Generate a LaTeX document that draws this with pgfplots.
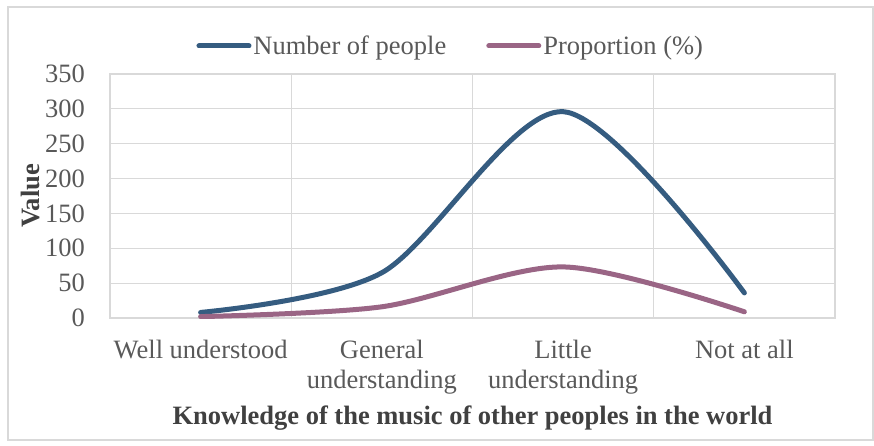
\documentclass[border=0pt]{standalone}
\usepackage{pgfplots}
\pgfplotsset{compat=1.18}
\usepackage{fontspec}
\setmainfont{Liberation Serif}
\definecolor{blueline}{HTML}{355C80}
\definecolor{purpleline}{HTML}{9A6585}
\definecolor{gridgray}{HTML}{D9D9D9}
\definecolor{txtgray}{HTML}{595959}
\definecolor{lblgray}{HTML}{404040}
\begin{document}
\begin{tikzpicture}[x=1pt,y=1pt]
\useasboundingbox (-110,-127) rectangle (764,318);
\draw[gridgray, line width=1.5pt] (-102,-122) rectangle (763,311);
\begin{axis}[
  at={(0,0)}, anchor=south west,
  scale only axis, width=725pt, height=244pt,
  xmin=-0.5, xmax=3.5, ymin=0, ymax=350,
  xtick={0,1,2,3},
  xticklabels={Well understood, {General\\understanding}, {Little\\understanding}, Not at all},
  minor xtick={0.5,1.5,2.5},
  ytick={0,50,...,350},
  ymajorgrids, xminorgrids,
  grid style={gridgray, line width=1.1pt},
  axis line style={gridgray, line width=1.1pt},
  major tick length=0pt, minor tick length=0pt,
  /pgf/number format/assume math mode=true,
  tick label style={font=\fontsize{26.5}{30}\selectfont, text=txtgray, inner sep=0pt},
  yticklabel style={anchor=east, xshift=-25pt},
  xticklabel style={anchor=north, yshift=-22pt, align=center},
  xlabel={Knowledge of the music of other peoples in the world},
  ylabel={Value},
  xlabel style={at={(axis description cs:0.5,-0.3607)}, anchor=north, inner sep=0pt, font=\bfseries\fontsize{26.5}{30}\selectfont, text=lblgray},
  ylabel style={at={(axis description cs:-0.0966,0.5)}, anchor=south, rotate=0, inner sep=0pt, font=\bfseries\fontsize{26.5}{30}\selectfont, text=lblgray},
  legend columns=2,
  legend style={at={(axis description cs:0.470,1.115)}, anchor=center, draw=none, fill=none, inner sep=0pt,
    font=\fontsize{26.5}{30}\selectfont, text=txtgray,
    /tikz/every even column/.append style={column sep=38pt}},
  legend image code/.code={\draw[#1, line cap=round] (0pt,0pt) -- (50pt,0pt);},
]
\addplot[blueline, line width=5pt, smooth, tension=0.5, line cap=round] coordinates {(0,8) (1,65) (2,296) (3,36)};
\addlegendentry{Number of people}
\addplot[purpleline, line width=5pt, smooth, tension=0.5, line cap=round] coordinates {(0,2.0) (1,16.1) (2,73.3) (3,8.9)};
\addlegendentry{Proportion (\%)}
\end{axis}
\end{tikzpicture}
\end{document}
